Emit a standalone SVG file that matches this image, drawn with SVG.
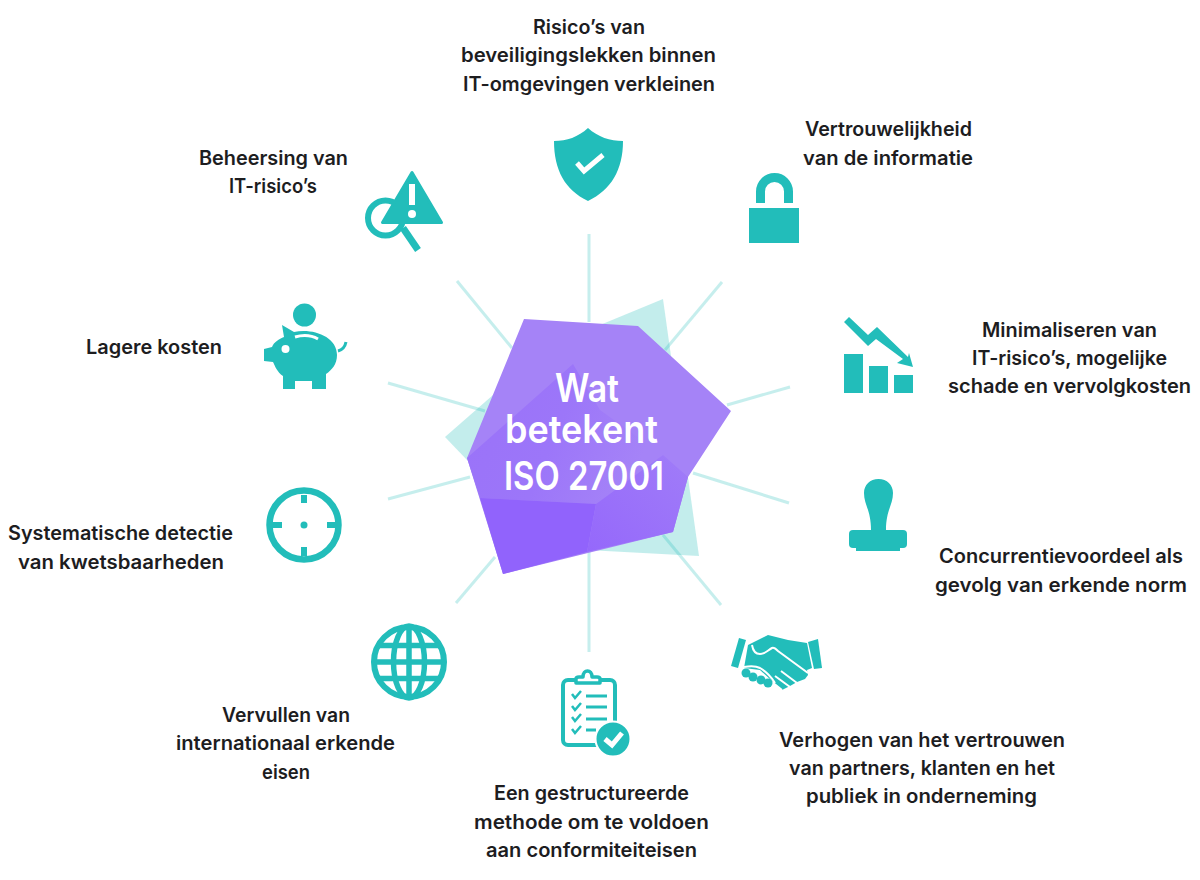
<svg xmlns="http://www.w3.org/2000/svg" width="1200" height="880" viewBox="0 0 1200 880">
<style>
.t{font-family:"Inter","Liberation Sans",sans-serif;font-size:19.5px;font-weight:600;fill:#1d1d1f}
.c{font-family:"Inter","Liberation Sans",sans-serif;font-size:39px;font-weight:600;fill:#fff}
.i{fill:#22bdba}
.s{fill:none;stroke:#22bdba}
.w{fill:none;stroke:#fff}
.r{stroke:#22bdba;stroke-opacity:.26;stroke-width:3;fill:none}
</style>
<defs>
<linearGradient id="pf" x1="0" y1="0" x2="1" y2="0.3"><stop offset="0" stop-color="#9a72f9"/><stop offset=".55" stop-color="#9c76f9"/><stop offset="1" stop-color="#a583f7"/></linearGradient>
<linearGradient id="pr" x1="0" y1="1" x2="1" y2="0"><stop offset="0" stop-color="#9568fb"/><stop offset="1" stop-color="#a07cf8"/></linearGradient>
</defs>
<rect width="1200" height="880" fill="#fff"/>
<g id="connectors">
<line class="r" x1="589" y1="234" x2="589" y2="322"/>
<line class="r" x1="722" y1="282" x2="665" y2="350"/>
<line class="r" x1="790" y1="387" x2="727" y2="405"/>
<line class="r" x1="789" y1="503" x2="693" y2="473"/>
<line class="r" x1="721" y1="605" x2="663" y2="535"/>
<line class="r" x1="589" y1="550" x2="589" y2="652"/>
<line class="r" x1="456" y1="603" x2="495" y2="557"/>
<line class="r" x1="388" y1="499" x2="470" y2="477"/>
<line class="r" x1="388" y1="383" x2="485" y2="411"/>
<line class="r" x1="457" y1="281" x2="512" y2="348"/>
</g>
<g id="center">
<polygon points="663,299 699,556 587,550 467,460 445,437 493,395 600,325" fill="#22bdba" fill-opacity=".27"/>
<polygon points="524,319 638,326 731,411 688,477 673,532 503,574 467,458" fill="#a583f7"/>
<polygon points="573,364 467,458 480,498 596,504 663,455 600,410" fill="url(#pf)"/>
<polygon points="480,498 596,504 587,552 503,574" fill="#9163fc"/>
<polygon points="596,504 587,552 673,532 688,477 663,455" fill="url(#pr)"/>
<text class="c" x="555" y="402" textLength="64" lengthAdjust="spacingAndGlyphs">Wat</text>
<text class="c" x="505" y="443" textLength="153" lengthAdjust="spacingAndGlyphs">betekent</text>
<text class="c" x="504" y="490" textLength="160" lengthAdjust="spacingAndGlyphs">ISO 27001</text>
</g>
<g id="node-risico">
<path class="i" d="M588,128C578,137 567,141 554,141C554,170 565,190 588,201C611,190 623,170 623,141C610,141 598,137 588,128Z"/>
<path class="w" stroke-width="5" d="M577,163L584,171L603,155"/>
<text class="t" lengthAdjust="spacingAndGlyphs" x="533" y="34" textLength="112">Risico’s van</text>
<text class="t" lengthAdjust="spacingAndGlyphs" x="461" y="62" textLength="255">beveiligingslekken binnen</text>
<text class="t" lengthAdjust="spacingAndGlyphs" x="463" y="91" textLength="252">IT-omgevingen verkleinen</text>
</g>
<g id="node-vertrouwelijkheid">
<rect class="i" x="749" y="208" width="50" height="35"/>
<path class="s" stroke-width="9" d="M760.5,203V191.500A14,14 0 0 1 788.500,191.500V203"/>
<text class="t" lengthAdjust="spacingAndGlyphs" x="805" y="136" textLength="167">Vertrouwelijkheid</text>
<text class="t" lengthAdjust="spacingAndGlyphs" x="803" y="165" textLength="170">van de informatie</text>
</g>
<g id="node-minimaliseren">
<rect class="i" x="844" y="354" width="19" height="39"/>
<rect class="i" x="869" y="366" width="19" height="27"/>
<rect class="i" x="894" y="375" width="19" height="18"/>
<polygon class="i" points="844,322 849,317 868,335 877,327 908,357 909,353 913,367 897,363 903,359 876,339 868,346"/>
<text class="t" lengthAdjust="spacingAndGlyphs" x="982" y="337" textLength="175">Minimaliseren van</text>
<text class="t" lengthAdjust="spacingAndGlyphs" x="972" y="365" textLength="195">IT-risico’s, mogelijke</text>
<text class="t" lengthAdjust="spacingAndGlyphs" x="948" y="393" textLength="243">schade en vervolgkosten</text>
</g>
<g id="node-concurrentie">
<path class="i" d="M878.500,479C870,479 864,485 864,493C864,505 871,510 871,530H886C886,510 893,505 893,493C893,485 887,479 878.500,479Z"/>
<rect class="i" x="849" y="530" width="58" height="18" rx="4"/>
<rect class="i" x="856" y="546" width="44" height="5"/>
<text class="t" lengthAdjust="spacingAndGlyphs" x="939" y="563" textLength="244">Concurrentievoordeel als</text>
<text class="t" lengthAdjust="spacingAndGlyphs" x="935" y="592" textLength="252">gevolg van erkende norm</text>
</g>
<g id="node-vertrouwen">
<polygon class="i" points="739,638 746,640 738,668 731,666"/>
<polygon class="i" points="808,642 818,639 822,668 814,669"/>
<path class="i" d="M748,645L768,635L788,640L807,643L812,668L807,670L808,675L805,679L797,682L790,686L782,690L778,687L771,680L760,670L744,668Z"/>
<path class="w" stroke-width="2" d="M752,645C753,651 756,654 760,654C765,654 768,650 772,648C774,647 776,649 778,651L808,673"/>
<path class="w" stroke-width="2" d="M744,667C750,666 756,666 760,668C765,671 770,675 775,683M781,671L797,683M775,676L790,687M772,682L782,690"/>
<circle class="i" cx="746" cy="673" r="4.500"/><circle class="i" cx="753" cy="677" r="4.500"/><circle class="i" cx="761" cy="680" r="4.500"/><circle class="i" cx="768" cy="683" r="4.500"/>
<text class="t" lengthAdjust="spacingAndGlyphs" x="779" y="747" textLength="286">Verhogen van het vertrouwen</text>
<text class="t" lengthAdjust="spacingAndGlyphs" x="789" y="775" textLength="266">van partners, klanten en het</text>
<text class="t" lengthAdjust="spacingAndGlyphs" x="806" y="803" textLength="231">publiek in onderneming</text>
</g>
<g id="node-methode">
<rect class="s" stroke-width="4" x="563" y="680" width="52" height="65" rx="5"/>
<path d="M576,683V679Q576,677 579,677H583C583,669 592,669 592,677H597Q600,677 600,679V683Z" fill="#fff" stroke="#22bdba" stroke-width="3.500" stroke-linejoin="round"/>
<g class="s" stroke-width="2.500">
<path d="M572,694L575,698L581,691M572,706L575,710L581,703M572,717L575,721L581,714M572,729L575,733L581,726"/>
</g>
<g class="s" stroke-width="3">
<path d="M586,696H607M586,707H607M586,719H607M586,730H596"/>
</g>
<circle class="i" cx="613" cy="739" r="17.500" stroke="#fff" stroke-width="2"/>
<path class="w" stroke-width="5" d="M605,739L612,745L622,733"/>
<text class="t" lengthAdjust="spacingAndGlyphs" x="494" y="800" textLength="195">Een gestructureerde</text>
<text class="t" lengthAdjust="spacingAndGlyphs" x="474" y="829" textLength="235">methode om te voldoen</text>
<text class="t" lengthAdjust="spacingAndGlyphs" x="486" y="857" textLength="211">aan conformiteiteisen</text>
</g>
<g id="node-eisen">
<circle class="s" stroke-width="6" cx="409" cy="662" r="35"/>
<g class="s" stroke-width="5.500">
<ellipse cx="409" cy="662" rx="15.500" ry="36"/>
<path d="M409,626V698M374,662H444M379,645.500H439M379,678.500H439"/>
</g>
<text class="t" lengthAdjust="spacingAndGlyphs" x="222" y="722" textLength="128">Vervullen van</text>
<text class="t" lengthAdjust="spacingAndGlyphs" x="176" y="750" textLength="219">internationaal erkende</text>
<text class="t" lengthAdjust="spacingAndGlyphs" x="262" y="779" textLength="48">eisen</text>
</g>
<g id="node-detectie">
<circle class="s" stroke-width="6.500" cx="304" cy="525" r="34.500"/>
<path class="s" stroke-width="6" d="M304,495V503M304,547V556M272,525H282M327,525H336"/>
<circle class="i" cx="304" cy="525" r="3.500"/>
<text class="t" lengthAdjust="spacingAndGlyphs" x="8" y="540" textLength="225">Systematische detectie</text>
<text class="t" lengthAdjust="spacingAndGlyphs" x="18" y="569" textLength="206">van kwetsbaarheden</text>
</g>
<g id="node-kosten">
<circle class="i" cx="304.500" cy="315" r="11.500"/>
<path class="i" d="M282,325L294,332C312,328 337,336 337,355C337,364 332,370 326,374V389H312V381H295V389H283V376C277,372 275,366 273,362L264,361V349L272,347C274,342 279,339 284,337Z"/>
<circle cx="285.500" cy="349" r="4" fill="#fff"/>
<path class="w" stroke-width="3" d="M295,337C302,335 311,335 318,339"/>
<path class="s" stroke-width="3" d="M338,351C342,350 345,347 346,342"/>
<text class="t" lengthAdjust="spacingAndGlyphs" x="86" y="354" textLength="136">Lagere kosten</text>
</g>
<g id="node-beheersing">
<circle class="s" stroke-width="6" cx="385.500" cy="218" r="17.500"/>
<path class="s" stroke-width="7" d="M403,228L418,250"/>
<path class="i" stroke="#22bdba" stroke-width="3" stroke-linejoin="round" d="M412,172.500L382.500,222.500H441.500Z"/>
<path class="w" stroke-width="6" d="M412,184V205"/>
<circle cx="412" cy="214" r="4" fill="#fff"/>
<text class="t" lengthAdjust="spacingAndGlyphs" x="199" y="165" textLength="149">Beheersing van</text>
<text class="t" lengthAdjust="spacingAndGlyphs" x="229" y="193" textLength="88">IT-risico’s</text>
</g>
</svg>
